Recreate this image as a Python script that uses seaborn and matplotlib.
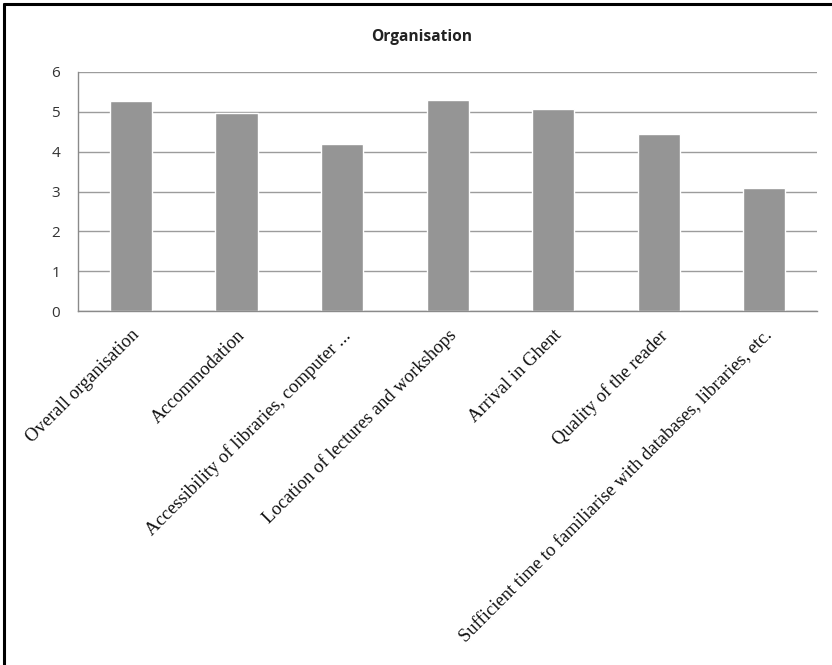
import pandas as pd
import numpy as np
import matplotlib
matplotlib.use("Agg")
import matplotlib.pyplot as plt
import seaborn as sns
from matplotlib.lines import Line2D

# Data
cats = [
    "Overall organisation",
    "Accommodation",
    "Accessibility of libraries, computer ...",
    "Location of lectures and workshops",
    "Arrival in Ghent",
    "Quality of the reader",
    "Sufficient time to familiarise with databases, libraries, etc.",
]
vals = [5.27, 4.98, 4.18, 5.3, 5.08, 4.45, 3.08]
yticks = [0, 1, 2, 3, 4, 5, 6]

df = pd.DataFrame({"item": cats, "score": vals})

sns.set_style("white")
fig = plt.figure(figsize=(8.32, 6.65), dpi=100)
ax = fig.add_axes([0.094, 0.532, 0.888, 0.36])

ax.set_axisbelow(True)
ax.yaxis.grid(True, color="#9c9c9c", linewidth=1)

sns.barplot(
    data=df,
    x="item",
    y="score",
    color="#959595",
    saturation=1,
    width=0.4,
    ax=ax,
)

ax.set_ylim(0, 6)
ax.set_xlim(-0.5, 6.5)
ax.set_yticks(yticks)
ax.set_yticklabels([str(t) for t in yticks], fontsize=11, family="Open Sans", color="#333333")
ax.set_xlabel("")
ax.set_ylabel("")

# category labels, rotated like the original
ax.set_xticks(range(len(cats)))
ax.set_xticklabels(cats, rotation=45, ha="right", va="top", rotation_mode="anchor",
                   fontsize=13.4, family="Liberation Serif", color="#111111")
ax.tick_params(axis="x", which="major", length=0, pad=11)
ax.set_xticks(np.arange(-0.5, 7, 1), minor=True)
ax.tick_params(axis="x", which="minor", length=5, color="#8a8a8a", direction="out")
ax.tick_params(axis="y", length=5, color="#8a8a8a", direction="out", pad=8)

for s in ["top", "right"]:
    ax.spines[s].set_visible(False)
for s in ["left", "bottom"]:
    ax.spines[s].set_color("#8a8a8a")
    ax.spines[s].set_linewidth(1)

fig.text(0.507, 0.944, "Organisation", ha="center", va="center",
         fontsize=11.2, fontweight="bold", family="Open Sans", color="#222222")

# outer frame (top and left edges only visible)
fig.add_artist(Line2D([0.005, 1.0], [0.994, 0.994], color="black", linewidth=2.2, transform=fig.transFigure))
fig.add_artist(Line2D([0.005, 0.005], [0.0, 0.994], color="black", linewidth=2.2, transform=fig.transFigure))

fig.savefig("out.png", dpi=100)
